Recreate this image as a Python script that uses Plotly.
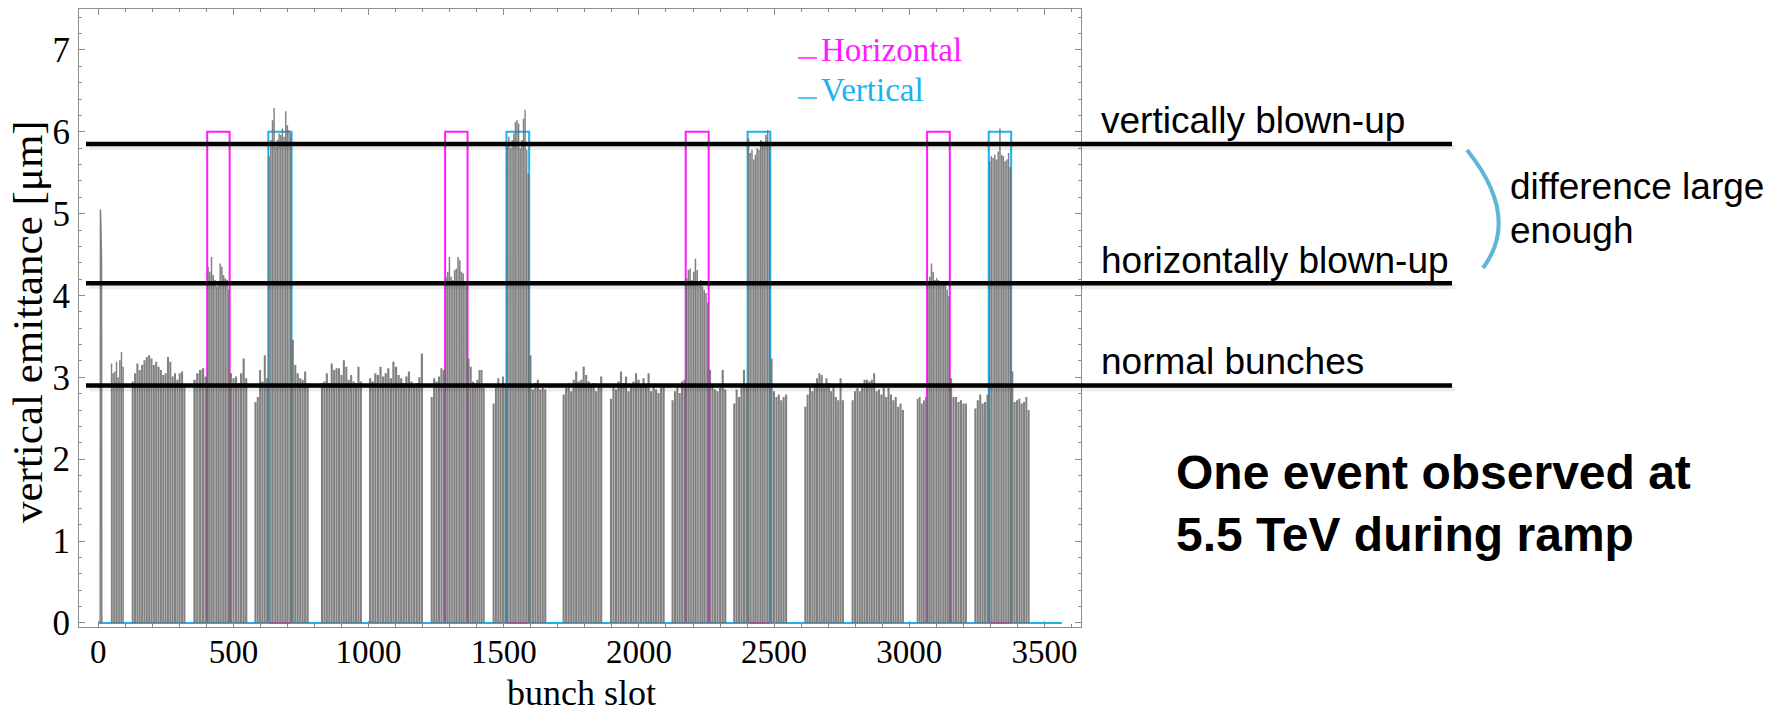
import plotly.graph_objects as go

# ---------------- data ----------------
X_RANGE = [-71.3, 3635.3]
Y_RANGE = [-0.05, 7.5]
FIRST_SLOT, LAST_SLOT = 0, 3564

H_BOX_START = [403, 1283, 2173, 3066]
H_BOX_END = [486, 1366, 2258, 3150]
V_BOX_START = [629, 1510, 2402, 3294]
V_BOX_END = [715, 1594, 2486, 3377]
BOX_LEVEL = 6.0

PILOT_SLOTS = [7, 8, 10, 12, 13]
PILOT_VALUES = [0, 5.05, 4.82, 4.45, 0]

T01 = [3.17, 3.05, 3.07, 3.19, 3.0, 3.21, 3.31, 3.13]
T02 = [2.95, 3.05, 3.17, 3.09, 3.15, 3.21, 3.25, 3.27, 3.23, 3.15, 3.19, 3.13,
       3.09, 3.03, 3.05, 3.25, 3.19, 3.01, 3.05, 2.97, 3.05, 3.07, 2.89]
T03A = [2.97, 3.05, 3.09, 3.11, 3.01]
H01 = [4.35, 4.29, 4.47, 4.25, 4.19, 4.11, 4.15, 4.39, 4.35, 4.25, 4.21, 4.19, 4.07]
T03B = [3.05, 2.99, 3.01, 2.93, 3.05, 3.23, 2.99]
T04A = [2.70, 2.76, 3.09, 2.95, 3.27, 2.99]
V01 = [5.70, 5.90, 6.14, 6.29, 5.82, 5.90, 5.98, 5.96, 6.04, 5.94, 6.25, 6.08, 6.02, 5.98]
T04B = [3.46, 3.15, 3.05, 2.99, 2.97, 3.07, 2.93]
T05 = [2.93, 2.95, 3.05, 2.93, 3.17, 3.09, 3.11, 3.11, 3.03, 3.21, 3.13, 2.97,
       3.03, 2.95, 2.93, 3.13, 2.95]
T06 = [2.99, 2.95, 3.05, 3.03, 3.13, 3.01, 3.05, 3.11, 2.99, 3.19, 3.13, 3.03,
       2.99, 2.93, 3.01, 3.07, 2.95, 2.89, 2.93, 3.0, 3.29]
T07A = [2.76, 2.99, 2.95, 3.01, 3.11, 3.09]
H02 = [4.23, 4.29, 4.47, 4.23, 4.19, 4.31, 4.33, 4.47, 4.43, 4.29, 4.27, 4.17, 4.11]
T07B = [3.23, 3.13, 2.95, 2.93, 2.97, 3.09, 3.09, 2.87]
T08A = [2.68, 2.89, 2.99, 2.87, 3.01, 2.89]
V02 = [5.82, 5.94, 5.80, 5.90, 5.98, 6.12, 6.14, 6.10, 5.80, 5.90, 6.16, 6.27, 5.78, 5.49]
T08B = [3.27, 2.85, 2.93, 2.97, 2.85, 2.87, 2.85]
T09 = [2.79, 2.87, 2.93, 2.83, 2.97, 3.07, 2.95, 2.97, 3.13, 3.03, 2.95, 2.89,
       2.93, 2.83, 2.89, 3.01]
T10 = [2.74, 2.89, 2.85, 2.95, 3.07, 2.93, 3.01, 2.83, 2.89, 2.95, 3.05, 2.97,
       2.89, 2.99, 2.89, 3.05, 2.83, 2.89, 2.85, 2.81, 2.87, 2.89]
T11A = [2.72, 2.83, 2.89, 2.81, 2.95, 2.97]
H03 = [4.21, 4.31, 4.33, 4.19, 4.29, 4.45, 4.31, 4.17, 4.19, 4.11, 4.07, 4.03, 3.91]
T11B = [3.09, 2.89, 2.85, 2.83, 2.87, 3.09, 2.85]
T12A = [2.68, 2.85, 2.76, 2.89, 3.09, 2.91]
V03 = [5.92, 5.74, 5.78, 5.66, 5.72, 5.80, 5.78, 5.90, 5.88, 5.84, 5.96, 6.02, 5.86]
T12B = [3.23, 2.83, 2.76, 2.79, 2.72, 2.76, 2.79]
T13 = [2.64, 2.79, 2.89, 2.83, 2.89, 2.99, 3.05, 3.03, 2.87, 2.99, 2.93, 2.83,
       2.89, 2.76, 2.72, 2.99, 2.72]
T14 = [2.72, 2.83, 2.87, 2.83, 2.89, 2.97, 2.97, 2.95, 2.97, 3.05, 2.83, 2.85,
       2.79, 2.87, 2.76, 2.87, 2.79, 2.72, 2.76, 2.64, 2.68, 2.60]
T15A = [2.74, 2.76, 2.68, 2.72, 2.76]
H04 = [4.15, 4.23, 4.39, 4.29, 4.19, 4.21, 4.19, 4.15, 4.17, 4.15, 4.17, 4.07, 3.99]
T15B = [2.99, 2.76, 2.76, 2.70, 2.72, 2.68, 2.68]
T16A = [2.62, 2.72, 2.79, 2.68, 2.70, 2.79]
V04 = [5.64, 5.70, 5.68, 5.72, 5.66, 5.76, 6.04, 5.72, 5.70, 5.64, 5.66, 5.74, 5.57]
T16B = [3.07, 2.70, 2.72, 2.74, 2.68, 2.70, 2.76, 2.60]

SEG_START = [46, 123, 351, 403, 486, 577, 629, 715, 823, 1001, 1229, 1283, 1366,
             1458, 1510, 1594, 1717, 1892, 2120, 2173, 2258, 2348, 2402, 2486,
             2611, 2786, 3027, 3066, 3150, 3240, 3294, 3377]
SEG_END = [95, 323, 403, 486, 552, 629, 715, 779, 976, 1202, 1283, 1366, 1430,
           1510, 1594, 1658, 1865, 2096, 2173, 2258, 2324, 2402, 2486, 2549,
           2759, 2981, 3066, 3150, 3214, 3294, 3377, 3446]
SEG_VALUES = [T01, T02, T03A, H01, T03B, T04A, V01, T04B, T05, T06, T07A, H02, T07B,
              T08A, V02, T08B, T09, T10, T11A, H03, T11B, T12A, V03, T12B,
              T13, T14, T15A, H04, T15B, T16A, V04, T16B]

REF_LEVELS = [5.85, 4.15, 2.90]
REF_LABELS = ["vertically blown-up", "horizontally blown-up", "normal bunches"]

# ---------------- styling ----------------
MAGENTA = "#FF1AFF"
CYAN = "#1AB2F0"
GRAY_FILL = "rgba(108,108,108,0.86)"
SERIF = "Liberation Serif, Times New Roman, serif"
SANS = "Liberation Sans, Arial, sans-serif"

W, H = 1781, 713
PL, PR, PT, PB = 79, 1081, 9, 627   # plot area pixels


def px(xp):
    return (xp - PL) / (PR - PL)


def py(yp):
    return (PB - yp) / (PB - PT)


def yval(v):
    return (v - Y_RANGE[0]) / (Y_RANGE[1] - Y_RANGE[0])


def step_trace(starts, ends):
    xs, ys = [FIRST_SLOT], [0]
    for s, e in zip(starts, ends):
        xs += [s, s, e, e]
        ys += [0, BOX_LEVEL, BOX_LEVEL, 0]
    xs.append(LAST_SLOT)
    ys.append(0)
    return xs, ys


# gray bunch polygons
gx, gy = [], []
for s, e, vals in zip(SEG_START, SEG_END, SEG_VALUES):
    n = len(vals)
    d = (e - s) / n
    for i, v in enumerate(vals):
        l = s + i * d + 0.07 * d
        r = s + (i + 1) * d - 0.07 * d
        gx += [l, l, r, r, l, None]
        gy += [0, v, v, 0, 0, None]

fig = go.Figure()
hx, hy = step_trace(H_BOX_START, H_BOX_END)
vx, vy = step_trace(V_BOX_START, V_BOX_END)
fig.add_trace(go.Scatter(x=hx, y=hy, mode="lines", line=dict(color=MAGENTA, width=2),
                         name="Horizontal", hoverinfo="skip"))
fig.add_trace(go.Scatter(x=vx, y=vy, mode="lines", line=dict(color=CYAN, width=2),
                         name="Vertical", hoverinfo="skip"))
fig.add_trace(go.Scatter(x=gx, y=gy, mode="lines", fill="toself", fillcolor=GRAY_FILL,
                         line=dict(width=0, color=GRAY_FILL), hoverinfo="skip",
                         showlegend=False))
fig.add_trace(go.Scatter(x=PILOT_SLOTS, y=PILOT_VALUES, mode="lines",
                         line=dict(color="rgba(108,108,108,0.86)", width=1.5),
                         hoverinfo="skip", showlegend=False))

shapes = []
annotations = []
# reference lines with soft shadow
for lvl, lab, base in zip(REF_LEVELS, REF_LABELS, [133, 272, 373]):
    yp = yval(lvl)
    shapes.append(dict(type="line", xref="paper", yref="paper", x0=px(89), x1=px(1455),
                       y0=yp - 3.5 / (PB - PT), y1=yp - 3.5 / (PB - PT),
                       line=dict(color="rgba(0,0,0,0.07)", width=5)))
    shapes.append(dict(type="line", xref="paper", yref="paper", x0=px(86), x1=px(1452),
                       y0=yp, y1=yp, line=dict(color="black", width=4.5)))
    annotations.append(dict(text=lab, xref="paper", yref="paper", x=px(1099),
                            y=py(base - 12), xanchor="left", yanchor="middle",
                            showarrow=False, font=dict(family=SANS, size=37, color="black")))

# bracket arc
shapes.append(dict(type="path", xref="paper", yref="paper",
                   path=f"M {px(1467)} {py(150)} Q {px(1521)} {py(217)} {px(1483)} {py(268)}",
                   line=dict(color="#5DB6D6", width=4)))

annotations.append(dict(text="difference large", xref="paper", yref="paper", x=px(1508),
                        y=py(186), xanchor="left", yanchor="middle", showarrow=False,
                        font=dict(family=SANS, size=37, color="black")))
annotations.append(dict(text="enough", xref="paper", yref="paper", x=px(1508),
                        y=py(231), xanchor="left", yanchor="middle", showarrow=False,
                        font=dict(family=SANS, size=37, color="black")))
annotations.append(dict(text="<b>One event observed at</b>", xref="paper", yref="paper",
                        x=px(1174), y=py(472), xanchor="left", yanchor="middle",
                        showarrow=False, font=dict(family=SANS, size=48, color="black")))
annotations.append(dict(text="<b>5.5 TeV during ramp</b>", xref="paper", yref="paper",
                        x=px(1174), y=py(534), xanchor="left", yanchor="middle",
                        showarrow=False, font=dict(family=SANS, size=48, color="black")))

# legend (manual)
for lab, col, base in [("Horizontal", MAGENTA, 60), ("Vertical", CYAN, 100)]:
    shapes.append(dict(type="line", xref="paper", yref="paper", x0=px(798), x1=px(817),
                       y0=py(base - 2), y1=py(base - 2), line=dict(color=col, width=1.5)))
    annotations.append(dict(text=lab, xref="paper", yref="paper", x=px(819), y=py(base - 10),
                            xanchor="left", yanchor="middle", showarrow=False,
                            font=dict(family=SERIF, size=33, color=col)))

# axis titles
annotations.append(dict(text="bunch slot", xref="paper", yref="paper", x=px(581), y=py(693),
                        xanchor="center", yanchor="middle", showarrow=False,
                        font=dict(family=SERIF, size=36, color="black")))
annotations.append(dict(text="vertical emittance [μm]", xref="paper", yref="paper", x=px(28),
                        y=py(322), xanchor="center", yanchor="middle", showarrow=False,
                        textangle=-90, font=dict(family=SERIF, size=43, color="black")))

axis_common = dict(showline=True, mirror="ticks", linecolor="#8c8c8c", linewidth=1,
                   ticks="inside", tickcolor="#8c8c8c", ticklen=6, tickwidth=1,
                   showgrid=False, zeroline=False)

fig.update_layout(
    width=W, height=H,
    margin=dict(l=PL, r=W - PR, t=PT, b=H - PB),
    paper_bgcolor="white", plot_bgcolor="white",
    showlegend=False,
    xaxis=dict(range=X_RANGE, dtick=500, tick0=0, ticklabelstandoff=-5,
               tickfont=dict(family=SERIF, size=33, color="black"),
               minor=dict(dtick=100, ticks="inside", ticklen=3, tickcolor="#8c8c8c"),
               **axis_common),
    yaxis=dict(range=Y_RANGE, dtick=1, tick0=0, ticklabelstandoff=1,
               tickfont=dict(family=SERIF, size=35, color="black"),
               minor=dict(dtick=0.2, ticks="inside", ticklen=3, tickcolor="#8c8c8c"),
               **axis_common),
    shapes=shapes,
    annotations=annotations,
)

fig.write_html("out.html")
